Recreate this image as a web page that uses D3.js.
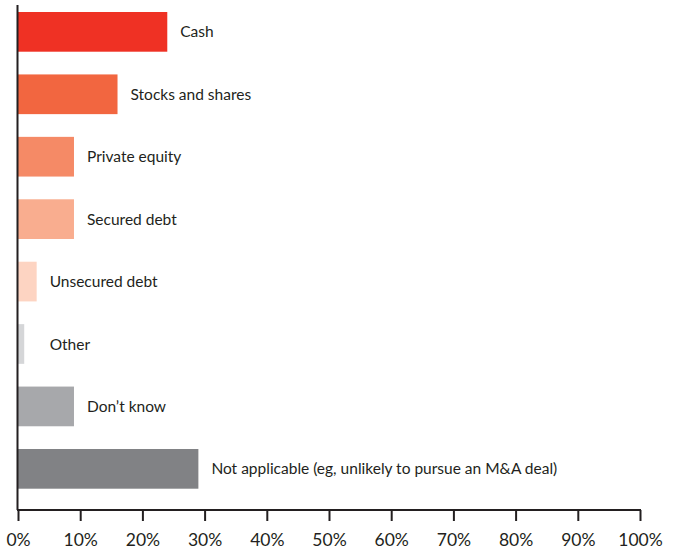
<!DOCTYPE html>
<html>
<head>
<meta charset="utf-8">
<script src="https://cdn.jsdelivr.net/npm/d3@7"></script>
<style>
  html, body { margin: 0; padding: 0; background: #fff; }
  svg { display: block; }
  text { font-family: Lato, "Open Sans", sans-serif; fill: #231f20; }
</style>
</head>
<body>
<svg id="chart" width="682" height="551"></svg>
<script>
// Funding sources for an M&A deal (% of respondents)
const categories = [
  "Cash",
  "Stocks and shares",
  "Private equity",
  "Secured debt",
  "Unsecured debt",
  "Other",
  "Don\u2019t know",
  "Not applicable (eg, unlikely to pursue an M&A deal)"
];
const values = [24, 16, 9, 9, 3, 1, 9, 29];
const barColors = ["#ef3124", "#f26640", "#f58a66", "#f9ad8f", "#fdd4c2", "#d5d6d8", "#a7a8ab", "#818285"];
const tickValues = [0, 10, 20, 30, 40, 50, 60, 70, 80, 90, 100];

const svg = d3.select("#chart");
const margin = { left: 18, right: 42, top: 12, bottom: 510 };

const x = d3.scaleLinear().domain([0, 100]).range([margin.left, 682 - margin.right]);
const y = d3.scaleBand()
  .domain(categories)
  .range([margin.top, 449 + 39.7])
  .paddingInner(0.364)
  .paddingOuter(0);

// bars
svg.append("g").selectAll("rect")
  .data(categories)
  .join("rect")
  .attr("x", x(0))
  .attr("y", d => y(d))
  .attr("width", (d, i) => x(values[i]) - x(0))
  .attr("height", y.bandwidth())
  .attr("fill", (d, i) => barColors[i]);

// category labels beside each bar
svg.append("g").selectAll("text")
  .data(categories)
  .join("text")
  .attr("x", (d, i) => Math.max(x(values[i]), x(3)) + 13)
  .attr("y", d => y(d) + y.bandwidth() / 2)
  .attr("dy", "0.36em")
  .attr("font-size", 15.5)
  .text(d => d);

// x axis
const xAxis = svg.append("g")
  .attr("transform", `translate(0,${margin.bottom})`)
  .call(d3.axisBottom(x).tickValues(tickValues).tickFormat(d => d + "%").tickSize(11).tickPadding(13));
xAxis.select(".domain").attr("stroke", "#231f20").attr("stroke-width", 2).attr("d", `M${x(0) - 1},0H${x(100) + 1}`);
xAxis.selectAll(".tick line").attr("stroke", "#231f20").attr("stroke-width", 2);
xAxis.selectAll(".tick text")
  .attr("font-size", 17.5)
  .attr("font-family", "Lato, 'Open Sans', sans-serif")
  .attr("fill", "#231f20");

// y axis line
svg.append("line")
  .attr("x1", x(0) - 0.5).attr("x2", x(0) - 0.5)
  .attr("y1", 5).attr("y2", margin.bottom)
  .attr("stroke", "#231f20")
  .attr("stroke-width", 2);
</script>
</body>
</html>
